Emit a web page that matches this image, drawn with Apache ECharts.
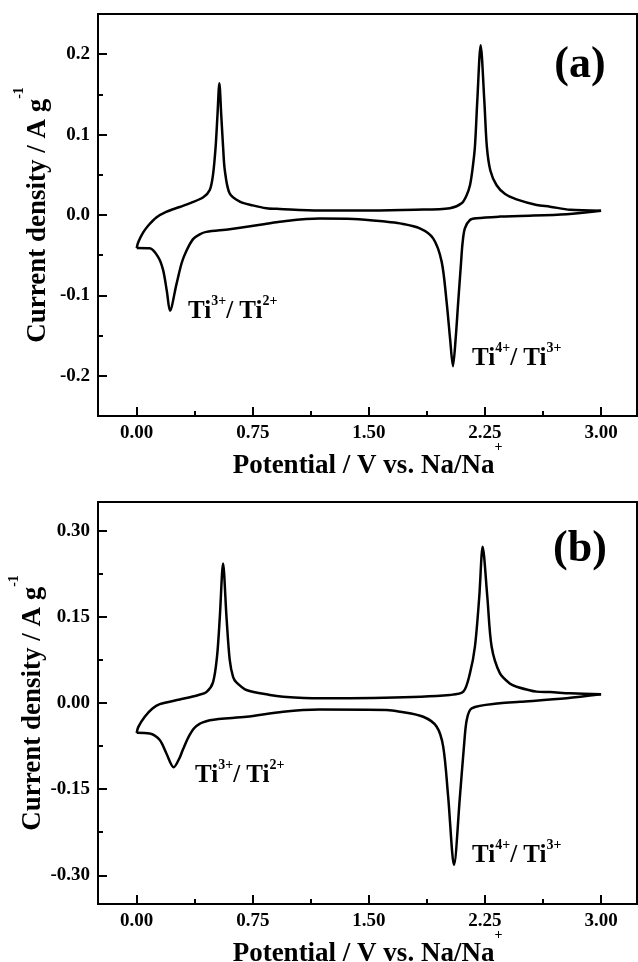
<!DOCTYPE html>
<html>
<head>
<meta charset="utf-8">
<script src="https://cdn.jsdelivr.net/npm/echarts@6/dist/echarts.min.js"></script>
<style>
  html, body { margin: 0; padding: 0; background: #fff; }
  #chart { width: 638px; height: 962px; }
</style>
</head>
<body>
<div id="chart"></div>
<script>
// Tick positions
const potentialTicks = [0, 0.75, 1.5, 2.25, 3.0];
const potentialMinorTicks = [0.375, 1.125, 1.875, 2.625];
const currentTicksA = [-0.2, -0.1, 0, 0.1, 0.2];
const currentMinorTicksA = [-0.15, -0.05, 0.05, 0.15];
const currentTicksB = [-0.3, -0.15, 0, 0.15, 0.3];
const currentMinorTicksB = [-0.225, -0.075, 0.075, 0.225];

// Panel (a): [potential V, current density A/g]
const sweepA_anodic = [
  [0.000, -0.041], [0.010, -0.034], [0.041, -0.022], [0.075, -0.013], [0.127, -0.003],
  [0.190, 0.004], [0.278, 0.010], [0.350, 0.015], [0.430, 0.022], [0.472, 0.031],
  [0.493, 0.050], [0.510, 0.085], [0.522, 0.125], [0.534, 0.164], [0.546, 0.125],
  [0.558, 0.085], [0.569, 0.056], [0.600, 0.027], [0.666, 0.0166], [0.750, 0.012],
  [0.838, 0.0085], [0.924, 0.0075], [1.180, 0.0055], [1.500, 0.0055], [1.800, 0.0065],
  [2.023, 0.0085], [2.099, 0.0146], [2.130, 0.024], [2.153, 0.037], [2.170, 0.058],
  [2.185, 0.085], [2.200, 0.141], [2.222, 0.211], [2.246, 0.141], [2.262, 0.085],
  [2.285, 0.055], [2.325, 0.037], [2.380, 0.026], [2.454, 0.0195], [2.584, 0.0125],
  [2.670, 0.0104], [2.800, 0.0065], [3.000, 0.0054]
];
const sweepA_cathodic = [
  [3.000, 0.0054], [2.777, 0.001], [2.476, -0.0012], [2.346, -0.002], [2.196, -0.004],
  [2.153, -0.0062], [2.120, -0.0166], [2.105, -0.035], [2.095, -0.060], [2.077, -0.108],
  [2.060, -0.155], [2.043, -0.188], [2.025, -0.155], [2.002, -0.108], [1.970, -0.058],
  [1.915, -0.029], [1.829, -0.0166], [1.700, -0.0104], [1.614, -0.0083], [1.400, -0.005],
  [1.180, -0.0045], [0.924, -0.0083], [0.838, -0.011], [0.600, -0.0178], [0.450, -0.021],
  [0.407, -0.024], [0.364, -0.030], [0.320, -0.045], [0.290, -0.060], [0.257, -0.086],
  [0.215, -0.119], [0.195, -0.095], [0.170, -0.068], [0.138, -0.052],
  [0.084, -0.0415], [0.000, -0.041]
];

// Panel (b)
const sweepB_anodic = [
  [0.000, -0.052], [0.010, -0.042], [0.052, -0.024], [0.100, -0.010], [0.149, -0.002],
  [0.278, 0.006], [0.400, 0.014], [0.450, 0.019], [0.493, 0.036], [0.519, 0.081],
  [0.537, 0.150], [0.558, 0.243], [0.580, 0.150], [0.601, 0.075], [0.623, 0.045],
  [0.644, 0.036], [0.709, 0.0227], [0.860, 0.014], [0.946, 0.011], [1.180, 0.0082],
  [1.600, 0.009], [2.023, 0.014], [2.110, 0.0197], [2.153, 0.052], [2.185, 0.098],
  [2.213, 0.185], [2.235, 0.272], [2.265, 0.185], [2.293, 0.098], [2.346, 0.052],
  [2.410, 0.034], [2.454, 0.0284], [2.584, 0.0198], [2.670, 0.0190], [2.800, 0.0169],
  [3.000, 0.0151]
];
const sweepB_cathodic = [
  [3.000, 0.0151], [2.777, 0.0082], [2.476, 0.002], [2.346, -0.0005], [2.164, -0.0092],
  [2.132, -0.0297], [2.114, -0.076], [2.088, -0.163], [2.050, -0.282], [2.012, -0.163],
  [1.980, -0.076], [1.937, -0.041], [1.851, -0.024], [1.700, -0.0151], [1.614, -0.0122],
  [1.180, -0.0115], [0.946, -0.0152], [0.709, -0.024], [0.472, -0.030], [0.386, -0.040],
  [0.343, -0.055], [0.300, -0.080], [0.278, -0.095], [0.239, -0.112], [0.192, -0.088],
  [0.149, -0.0645], [0.084, -0.053], [0.000, -0.052]
];

const FONT = "'Liberation Serif', 'Times New Roman', serif";
const INK = '#000';

const titleRich = {
  t: { fontFamily: FONT, fontWeight: 'bold', fontSize: 27, color: INK, lineHeight: 40, verticalAlign: 'bottom' },
  s: { fontFamily: FONT, fontWeight: 'bold', fontSize: 14, color: INK, lineHeight: 8, verticalAlign: 'top' }
};
const ionRich = {
  t: { fontFamily: FONT, fontWeight: 'bold', fontSize: 25, color: INK, lineHeight: 30, verticalAlign: 'bottom' },
  s: { fontFamily: FONT, fontWeight: 'bold', fontSize: 14, color: INK, lineHeight: 7, verticalAlign: 'top' }
};

const tickLabelStyle = { color: INK, fontFamily: FONT, fontWeight: 'bold', fontSize: 19 };

function xAxes(gridIndex) {
  return [
    {
      type: 'value', gridIndex, position: 'bottom', min: -0.25, max: 3.232,
      axisLine: { show: true, onZero: false, lineStyle: { color: INK, width: 2 } },
      axisTick: { show: true, inside: true, length: 9, customValues: potentialTicks, lineStyle: { color: INK, width: 2 } },
      axisLabel: Object.assign({ customValues: potentialTicks, margin: 8, formatter: v => v.toFixed(2) }, tickLabelStyle),
      splitLine: { show: false },
      name: '{t|Potential / V vs. Na/Na}{s|+}',
      nameLocation: 'middle', nameGap: 24, nameMoveOverlap: false,
      nameTextStyle: { rich: titleRich }
    },
    {
      type: 'value', gridIndex, position: 'bottom', min: -0.25, max: 3.232,
      axisLine: { show: false, onZero: false },
      axisTick: { show: true, inside: true, length: 5, customValues: potentialMinorTicks, lineStyle: { color: INK, width: 2 } },
      axisLabel: { show: false },
      splitLine: { show: false }
    }
  ];
}

function yAxes(gridIndex, lim, major, minor, digits, gap) {
  return [
    {
      type: 'value', gridIndex, position: 'left', min: -lim, max: lim,
      axisLine: { show: true, onZero: false, lineStyle: { color: INK, width: 2 } },
      axisTick: { show: true, inside: true, length: 9, customValues: major, lineStyle: { color: INK, width: 2 } },
      axisLabel: Object.assign({ customValues: major, margin: 8, formatter: v => v.toFixed(digits) }, tickLabelStyle),
      splitLine: { show: false },
      name: '{t|Current density / A g}{s|-1}',
      nameLocation: 'middle', nameRotate: 90, nameGap: gap, nameMoveOverlap: false,
      nameTextStyle: { rich: titleRich }
    },
    {
      type: 'value', gridIndex, position: 'left', min: -lim, max: lim,
      axisLine: { show: false, onZero: false },
      axisTick: { show: true, inside: true, length: 5, customValues: minor, lineStyle: { color: INK, width: 2 } },
      axisLabel: { show: false },
      splitLine: { show: false }
    }
  ];
}

function curve(data, axisIndex) {
  return {
    type: 'line', data, xAxisIndex: axisIndex, yAxisIndex: axisIndex,
    showSymbol: false, smooth: 0.3, silent: true,
    lineStyle: { color: INK, width: 2.5, join: 'round' }
  };
}

function ionLabel(x, y, hi, lo) {
  return {
    type: 'text', x, y, silent: true,
    style: {
      text: '{t|Ti}{s|' + hi + '}{t|/ Ti}{s|' + lo + '}',
      rich: ionRich, align: 'left', verticalAlign: 'top'
    }
  };
}

function panelTag(x, y, txt) {
  return {
    type: 'text', x, y, silent: true,
    style: { text: txt, fontFamily: FONT, fontWeight: 'bold', fontSize: 44, fill: INK, align: 'center', verticalAlign: 'middle' }
  };
}

const gridBase = { left: 98, width: 539, height: 402, show: true, borderColor: INK, borderWidth: 2,
  backgroundColor: 'transparent', containLabel: false, outerBoundsMode: 'none' };

const chart = echarts.init(document.getElementById('chart'), null, { renderer: 'canvas' });
chart.setOption({
  backgroundColor: '#fff',
  animation: false,
  grid: [
    Object.assign({ top: 14 }, gridBase),
    Object.assign({ top: 502 }, gridBase)
  ],
  xAxis: [...xAxes(0), ...xAxes(1)],
  yAxis: [
    ...yAxes(0, 0.25, currentTicksA, currentMinorTicksA, 1, 46),
    ...yAxes(1, 0.35, currentTicksB, currentMinorTicksB, 2, 51)
  ],
  series: [
    curve(sweepA_anodic, 0),
    curve(sweepA_cathodic, 0),
    curve(sweepB_anodic, 2),
    curve(sweepB_cathodic, 2)
  ],
  graphic: [
    panelTag(580, 66, '(a)'),
    panelTag(580, 550, '(b)'),
    ionLabel(188, 294, '3+', '2+'),
    ionLabel(472, 341, '4+', '3+'),
    ionLabel(195, 758, '3+', '2+'),
    ionLabel(472, 838, '4+', '3+')
  ]
});
</script>
</body>
</html>
